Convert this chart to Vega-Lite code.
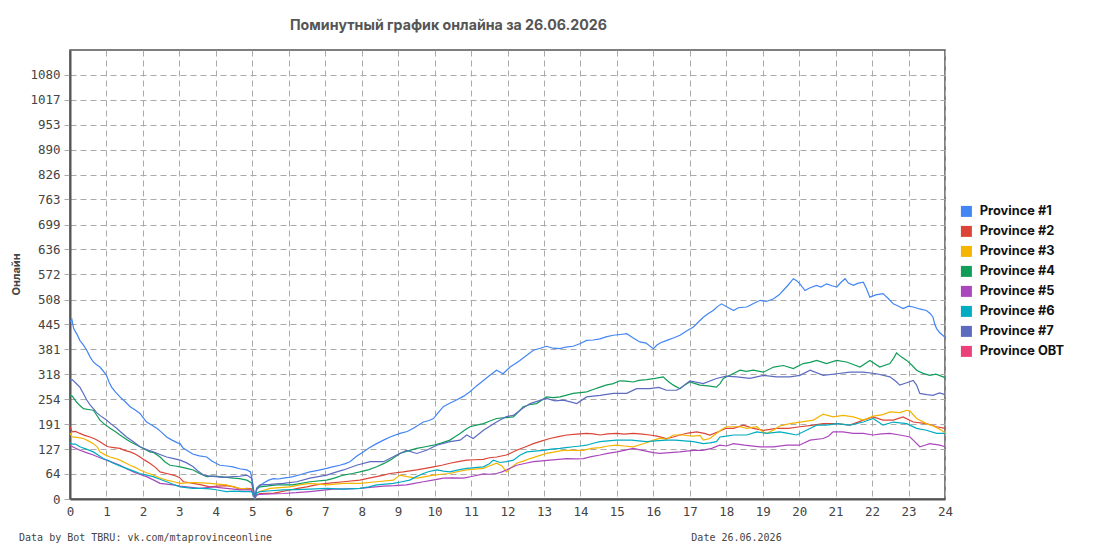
{
  "$schema": "https://vega.github.io/schema/vega-lite/v6.json",
  "width": 875,
  "height": 449,
  "autosize": "none",
  "padding": {"left": 70, "top": 50, "right": 150, "bottom": 51},
  "background": "white",
  "title": {
    "text": "Поминутный график онлайна за 26.06.2026",
    "frame": "group", "anchor": "start", "dx": 220, "offset": 17,
    "font": "Inter", "fontSize": 14.2, "fontWeight": "bold", "color": "#555555"
  },
  "data": {"values": [
    {"hour":0,"province":"Province #1","online":452},{"hour":0.05,"province":"Province #1","online":458},{"hour":0.1,"province":"Province #1","online":434},{"hour":0.2,"province":"Province #1","online":418},{"hour":0.27,"province":"Province #1","online":404},{"hour":0.37,"province":"Province #1","online":392},{"hour":0.46,"province":"Province #1","online":379},{"hour":0.55,"province":"Province #1","online":362},{"hour":0.64,"province":"Province #1","online":349},{"hour":0.73,"province":"Province #1","online":342},{"hour":0.82,"province":"Province #1","online":336},{"hour":0.91,"province":"Province #1","online":326},{"hour":1.0,"province":"Province #1","online":315},{"hour":1.07,"province":"Province #1","online":298},{"hour":1.14,"province":"Province #1","online":285},{"hour":1.25,"province":"Province #1","online":272},{"hour":1.37,"province":"Province #1","online":260},{"hour":1.5,"province":"Province #1","online":249},{"hour":1.65,"province":"Province #1","online":235},{"hour":1.8,"province":"Province #1","online":226},{"hour":1.92,"province":"Province #1","online":218},{"hour":2.0,"province":"Province #1","online":208},{"hour":2.1,"province":"Province #1","online":196},{"hour":2.25,"province":"Province #1","online":188},{"hour":2.38,"province":"Province #1","online":180},{"hour":2.5,"province":"Province #1","online":171},{"hour":2.65,"province":"Province #1","online":158},{"hour":2.8,"province":"Province #1","online":150},{"hour":2.95,"province":"Province #1","online":143},{"hour":3.02,"province":"Province #1","online":141},{"hour":3.1,"province":"Province #1","online":130},{"hour":3.2,"province":"Province #1","online":124},{"hour":3.38,"province":"Province #1","online":114},{"hour":3.55,"province":"Province #1","online":110},{"hour":3.75,"province":"Province #1","online":107},{"hour":3.9,"province":"Province #1","online":96},{"hour":4.11,"province":"Province #1","online":86},{"hour":4.3,"province":"Province #1","online":84},{"hour":4.47,"province":"Province #1","online":82},{"hour":4.65,"province":"Province #1","online":77},{"hour":4.85,"province":"Province #1","online":74},{"hour":4.95,"province":"Province #1","online":69},{"hour":5.0,"province":"Province #1","online":48},{"hour":5.07,"province":"Province #1","online":2},{"hour":5.12,"province":"Province #1","online":23},{"hour":5.2,"province":"Province #1","online":33},{"hour":5.3,"province":"Province #1","online":40},{"hour":5.45,"province":"Province #1","online":48},{"hour":5.58,"province":"Province #1","online":52},{"hour":5.72,"province":"Province #1","online":51},{"hour":5.85,"province":"Province #1","online":53},{"hour":6.0,"province":"Province #1","online":55},{"hour":6.12,"province":"Province #1","online":57},{"hour":6.35,"province":"Province #1","online":63},{"hour":6.58,"province":"Province #1","online":69},{"hour":6.8,"province":"Province #1","online":73},{"hour":7.04,"province":"Province #1","online":78},{"hour":7.2,"province":"Province #1","online":82},{"hour":7.4,"province":"Province #1","online":86},{"hour":7.55,"province":"Province #1","online":90},{"hour":7.68,"province":"Province #1","online":95},{"hour":7.85,"province":"Province #1","online":108},{"hour":8.04,"province":"Province #1","online":120},{"hour":8.2,"province":"Province #1","online":130},{"hour":8.41,"province":"Province #1","online":141},{"hour":8.6,"province":"Province #1","online":150},{"hour":8.78,"province":"Province #1","online":158},{"hour":9.05,"province":"Province #1","online":167},{"hour":9.25,"province":"Province #1","online":172},{"hour":9.42,"province":"Province #1","online":180},{"hour":9.55,"province":"Province #1","online":188},{"hour":9.69,"province":"Province #1","online":196},{"hour":9.85,"province":"Province #1","online":200},{"hour":9.97,"province":"Province #1","online":205},{"hour":10.1,"province":"Province #1","online":220},{"hour":10.24,"province":"Province #1","online":235},{"hour":10.4,"province":"Province #1","online":243},{"hour":10.6,"province":"Province #1","online":252},{"hour":10.8,"province":"Province #1","online":262},{"hour":10.97,"province":"Province #1","online":273},{"hour":11.15,"province":"Province #1","online":288},{"hour":11.34,"province":"Province #1","online":302},{"hour":11.5,"province":"Province #1","online":314},{"hour":11.7,"province":"Province #1","online":328},{"hour":11.88,"province":"Province #1","online":319},{"hour":12.07,"province":"Province #1","online":336},{"hour":12.2,"province":"Province #1","online":344},{"hour":12.34,"province":"Province #1","online":353},{"hour":12.5,"province":"Province #1","online":364},{"hour":12.71,"province":"Province #1","online":379},{"hour":12.9,"province":"Province #1","online":384},{"hour":13.07,"province":"Province #1","online":389},{"hour":13.25,"province":"Province #1","online":384},{"hour":13.44,"province":"Province #1","online":383},{"hour":13.6,"province":"Province #1","online":387},{"hour":13.8,"province":"Province #1","online":389},{"hour":14.0,"province":"Province #1","online":396},{"hour":14.17,"province":"Province #1","online":404},{"hour":14.35,"province":"Province #1","online":405},{"hour":14.54,"province":"Province #1","online":408},{"hour":14.7,"province":"Province #1","online":413},{"hour":14.9,"province":"Province #1","online":417},{"hour":15.1,"province":"Province #1","online":419},{"hour":15.27,"province":"Province #1","online":421},{"hour":15.45,"province":"Province #1","online":410},{"hour":15.63,"province":"Province #1","online":400},{"hour":15.8,"province":"Province #1","online":397},{"hour":16.0,"province":"Province #1","online":383},{"hour":16.1,"province":"Province #1","online":392},{"hour":16.2,"province":"Province #1","online":398},{"hour":16.37,"province":"Province #1","online":404},{"hour":16.55,"province":"Province #1","online":410},{"hour":16.73,"province":"Province #1","online":417},{"hour":16.9,"province":"Province #1","online":427},{"hour":17.1,"province":"Province #1","online":438},{"hour":17.25,"province":"Province #1","online":452},{"hour":17.37,"province":"Province #1","online":463},{"hour":17.5,"province":"Province #1","online":472},{"hour":17.64,"province":"Province #1","online":480},{"hour":17.76,"province":"Province #1","online":490},{"hour":17.87,"province":"Province #1","online":497},{"hour":18.0,"province":"Province #1","online":490},{"hour":18.1,"province":"Province #1","online":485},{"hour":18.2,"province":"Province #1","online":480},{"hour":18.33,"province":"Province #1","online":487},{"hour":18.56,"province":"Province #1","online":489},{"hour":18.75,"province":"Province #1","online":498},{"hour":18.93,"province":"Province #1","online":506},{"hour":19.1,"province":"Province #1","online":503},{"hour":19.3,"province":"Province #1","online":510},{"hour":19.45,"province":"Province #1","online":520},{"hour":19.56,"province":"Province #1","online":531},{"hour":19.7,"province":"Province #1","online":545},{"hour":19.84,"province":"Province #1","online":561},{"hour":19.93,"province":"Province #1","online":556},{"hour":20.02,"province":"Province #1","online":548},{"hour":20.16,"province":"Province #1","online":531},{"hour":20.3,"province":"Province #1","online":538},{"hour":20.48,"province":"Province #1","online":544},{"hour":20.6,"province":"Province #1","online":540},{"hour":20.75,"province":"Province #1","online":548},{"hour":20.9,"province":"Province #1","online":543},{"hour":21.03,"province":"Province #1","online":540},{"hour":21.15,"province":"Province #1","online":552},{"hour":21.26,"province":"Province #1","online":561},{"hour":21.35,"province":"Province #1","online":550},{"hour":21.49,"province":"Province #1","online":544},{"hour":21.6,"province":"Province #1","online":549},{"hour":21.76,"province":"Province #1","online":552},{"hour":21.85,"province":"Province #1","online":535},{"hour":21.94,"province":"Province #1","online":514},{"hour":22.1,"province":"Province #1","online":520},{"hour":22.3,"province":"Province #1","online":523},{"hour":22.45,"province":"Province #1","online":510},{"hour":22.58,"province":"Province #1","online":497},{"hour":22.7,"province":"Province #1","online":492},{"hour":22.85,"province":"Province #1","online":485},{"hour":23.0,"province":"Province #1","online":491},{"hour":23.13,"province":"Province #1","online":489},{"hour":23.3,"province":"Province #1","online":484},{"hour":23.49,"province":"Province #1","online":480},{"hour":23.6,"province":"Province #1","online":472},{"hour":23.67,"province":"Province #1","online":463},{"hour":23.72,"province":"Province #1","online":445},{"hour":23.77,"province":"Province #1","online":434},{"hour":23.85,"province":"Province #1","online":424},{"hour":24,"province":"Province #1","online":412},
    {"hour":0,"province":"Province #2","online":185},{"hour":0.06,"province":"Province #2","online":171},{"hour":0.15,"province":"Province #2","online":172},{"hour":0.27,"province":"Province #2","online":167},{"hour":0.4,"province":"Province #2","online":162},{"hour":0.55,"province":"Province #2","online":158},{"hour":0.7,"province":"Province #2","online":152},{"hour":0.82,"province":"Province #2","online":146},{"hour":1.0,"province":"Province #2","online":135},{"hour":1.05,"province":"Province #2","online":133},{"hour":1.2,"province":"Province #2","online":131},{"hour":1.37,"province":"Province #2","online":129},{"hour":1.5,"province":"Province #2","online":124},{"hour":1.65,"province":"Province #2","online":120},{"hour":1.8,"province":"Province #2","online":114},{"hour":1.92,"province":"Province #2","online":107},{"hour":2.05,"province":"Province #2","online":99},{"hour":2.19,"province":"Province #2","online":91},{"hour":2.35,"province":"Province #2","online":80},{"hour":2.47,"province":"Province #2","online":69},{"hour":2.65,"province":"Province #2","online":65},{"hour":2.83,"province":"Province #2","online":61},{"hour":3.0,"province":"Province #2","online":55},{"hour":3.11,"province":"Province #2","online":44},{"hour":3.25,"province":"Province #2","online":42},{"hour":3.38,"province":"Province #2","online":40},{"hour":3.6,"province":"Province #2","online":36},{"hour":3.84,"province":"Province #2","online":31},{"hour":4.05,"province":"Province #2","online":33},{"hour":4.29,"province":"Province #2","online":34},{"hour":4.5,"province":"Province #2","online":31},{"hour":4.66,"province":"Province #2","online":25},{"hour":4.85,"province":"Province #2","online":27},{"hour":4.98,"province":"Province #2","online":26},{"hour":5.07,"province":"Province #2","online":2},{"hour":5.12,"province":"Province #2","online":10},{"hour":5.21,"province":"Province #2","online":14},{"hour":5.6,"province":"Province #2","online":15},{"hour":6.03,"province":"Province #2","online":23},{"hour":6.25,"province":"Province #2","online":27},{"hour":6.49,"province":"Province #2","online":31},{"hour":6.75,"province":"Province #2","online":36},{"hour":7.04,"province":"Province #2","online":40},{"hour":7.5,"province":"Province #2","online":44},{"hour":7.95,"province":"Province #2","online":48},{"hour":8.2,"province":"Province #2","online":53},{"hour":8.41,"province":"Province #2","online":57},{"hour":8.6,"province":"Province #2","online":61},{"hour":8.78,"province":"Province #2","online":65},{"hour":9.14,"province":"Province #2","online":69},{"hour":9.51,"province":"Province #2","online":74},{"hour":9.75,"province":"Province #2","online":78},{"hour":9.97,"province":"Province #2","online":82},{"hour":10.2,"province":"Province #2","online":86},{"hour":10.42,"province":"Province #2","online":91},{"hour":10.65,"province":"Province #2","online":95},{"hour":10.88,"province":"Province #2","online":99},{"hour":11.1,"province":"Province #2","online":100},{"hour":11.34,"province":"Province #2","online":101},{"hour":11.5,"province":"Province #2","online":105},{"hour":11.7,"province":"Province #2","online":107},{"hour":11.97,"province":"Province #2","online":112},{"hour":12.25,"province":"Province #2","online":124},{"hour":12.5,"province":"Province #2","online":133},{"hour":12.71,"province":"Province #2","online":141},{"hour":12.95,"province":"Province #2","online":148},{"hour":13.16,"province":"Province #2","online":154},{"hour":13.4,"province":"Province #2","online":159},{"hour":13.62,"province":"Province #2","online":163},{"hour":13.9,"province":"Province #2","online":165},{"hour":14.17,"province":"Province #2","online":167},{"hour":14.35,"province":"Province #2","online":166},{"hour":14.54,"province":"Province #2","online":163},{"hour":14.75,"province":"Province #2","online":166},{"hour":15.0,"province":"Province #2","online":167},{"hour":15.2,"province":"Province #2","online":165},{"hour":15.45,"province":"Province #2","online":167},{"hour":15.7,"province":"Province #2","online":165},{"hour":15.9,"province":"Province #2","online":163},{"hour":16.1,"province":"Province #2","online":160},{"hour":16.36,"province":"Province #2","online":154},{"hour":16.55,"province":"Province #2","online":158},{"hour":16.73,"province":"Province #2","online":163},{"hour":16.95,"province":"Province #2","online":168},{"hour":17.19,"province":"Province #2","online":171},{"hour":17.4,"province":"Province #2","online":167},{"hour":17.55,"province":"Province #2","online":163},{"hour":17.8,"province":"Province #2","online":172},{"hour":18.0,"province":"Province #2","online":180},{"hour":18.2,"province":"Province #2","online":180},{"hour":18.47,"province":"Province #2","online":188},{"hour":18.74,"province":"Province #2","online":180},{"hour":19.02,"province":"Province #2","online":175},{"hour":19.38,"province":"Province #2","online":180},{"hour":19.7,"province":"Province #2","online":180},{"hour":20.02,"province":"Province #2","online":184},{"hour":20.39,"province":"Province #2","online":188},{"hour":20.66,"province":"Province #2","online":192},{"hour":21.03,"province":"Province #2","online":192},{"hour":21.39,"province":"Province #2","online":188},{"hour":21.76,"province":"Province #2","online":201},{"hour":22.03,"province":"Province #2","online":209},{"hour":22.3,"province":"Province #2","online":201},{"hour":22.58,"province":"Province #2","online":201},{"hour":22.85,"province":"Province #2","online":209},{"hour":23.13,"province":"Province #2","online":196},{"hour":23.49,"province":"Province #2","online":192},{"hour":23.77,"province":"Province #2","online":184},{"hour":24,"province":"Province #2","online":180},
    {"hour":0,"province":"Province #3","online":168},{"hour":0.06,"province":"Province #3","online":158},{"hour":0.2,"province":"Province #3","online":157},{"hour":0.37,"province":"Province #3","online":154},{"hour":0.5,"province":"Province #3","online":148},{"hour":0.64,"province":"Province #3","online":141},{"hour":0.75,"province":"Province #3","online":132},{"hour":0.82,"province":"Province #3","online":120},{"hour":0.95,"province":"Province #3","online":113},{"hour":1.1,"province":"Province #3","online":107},{"hour":1.25,"province":"Province #3","online":103},{"hour":1.37,"province":"Province #3","online":99},{"hour":1.5,"province":"Province #3","online":93},{"hour":1.65,"province":"Province #3","online":86},{"hour":1.8,"province":"Province #3","online":80},{"hour":1.92,"province":"Province #3","online":74},{"hour":2.1,"province":"Province #3","online":67},{"hour":2.28,"province":"Province #3","online":61},{"hour":2.45,"province":"Province #3","online":54},{"hour":2.65,"province":"Province #3","online":48},{"hour":2.85,"province":"Province #3","online":44},{"hour":3.02,"province":"Province #3","online":40},{"hour":3.2,"province":"Province #3","online":41},{"hour":3.38,"province":"Province #3","online":42},{"hour":3.6,"province":"Province #3","online":41},{"hour":3.84,"province":"Province #3","online":40},{"hour":4.05,"province":"Province #3","online":38},{"hour":4.29,"province":"Province #3","online":36},{"hour":4.5,"province":"Province #3","online":31},{"hour":4.66,"province":"Province #3","online":27},{"hour":4.85,"province":"Province #3","online":26},{"hour":4.98,"province":"Province #3","online":24},{"hour":5.07,"province":"Province #3","online":2},{"hour":5.12,"province":"Province #3","online":15},{"hour":5.21,"province":"Province #3","online":19},{"hour":5.49,"province":"Province #3","online":27},{"hour":5.75,"province":"Province #3","online":29},{"hour":6.03,"province":"Province #3","online":31},{"hour":6.3,"province":"Province #3","online":36},{"hour":6.58,"province":"Province #3","online":40},{"hour":6.8,"province":"Province #3","online":38},{"hour":7.04,"province":"Province #3","online":36},{"hour":7.25,"province":"Province #3","online":38},{"hour":7.5,"province":"Province #3","online":40},{"hour":7.95,"province":"Province #3","online":40},{"hour":8.41,"province":"Province #3","online":44},{"hour":8.87,"province":"Province #3","online":48},{"hour":9.05,"province":"Province #3","online":61},{"hour":9.25,"province":"Province #3","online":57},{"hour":9.51,"province":"Province #3","online":53},{"hour":9.75,"province":"Province #3","online":57},{"hour":9.97,"province":"Province #3","online":61},{"hour":10.2,"province":"Province #3","online":63},{"hour":10.42,"province":"Province #3","online":65},{"hour":10.65,"province":"Province #3","online":70},{"hour":10.88,"province":"Province #3","online":74},{"hour":11.1,"province":"Province #3","online":76},{"hour":11.34,"province":"Province #3","online":78},{"hour":11.5,"province":"Province #3","online":84},{"hour":11.7,"province":"Province #3","online":91},{"hour":11.85,"province":"Province #3","online":84},{"hour":11.97,"province":"Province #3","online":69},{"hour":12.1,"province":"Province #3","online":80},{"hour":12.25,"province":"Province #3","online":91},{"hour":12.45,"province":"Province #3","online":97},{"hour":12.62,"province":"Province #3","online":103},{"hour":12.85,"province":"Province #3","online":110},{"hour":13.07,"province":"Province #3","online":116},{"hour":13.3,"province":"Province #3","online":120},{"hour":13.53,"province":"Province #3","online":124},{"hour":13.8,"province":"Province #3","online":124},{"hour":14.08,"province":"Province #3","online":124},{"hour":14.3,"province":"Province #3","online":129},{"hour":14.54,"province":"Province #3","online":131},{"hour":14.75,"province":"Province #3","online":135},{"hour":15.0,"province":"Province #3","online":137},{"hour":15.2,"province":"Province #3","online":135},{"hour":15.45,"province":"Province #3","online":133},{"hour":15.7,"province":"Province #3","online":140},{"hour":15.9,"province":"Province #3","online":146},{"hour":16.0,"province":"Province #3","online":150},{"hour":16.2,"province":"Province #3","online":155},{"hour":16.36,"province":"Province #3","online":152},{"hour":16.55,"province":"Province #3","online":163},{"hour":16.8,"province":"Province #3","online":163},{"hour":17.1,"province":"Province #3","online":160},{"hour":17.28,"province":"Province #3","online":162},{"hour":17.37,"province":"Province #3","online":150},{"hour":17.55,"province":"Province #3","online":154},{"hour":17.73,"province":"Province #3","online":167},{"hour":17.9,"province":"Province #3","online":178},{"hour":18.0,"province":"Province #3","online":184},{"hour":18.2,"province":"Province #3","online":184},{"hour":18.38,"province":"Province #3","online":184},{"hour":18.56,"province":"Province #3","online":180},{"hour":18.84,"province":"Province #3","online":184},{"hour":19.0,"province":"Province #3","online":171},{"hour":19.11,"province":"Province #3","online":167},{"hour":19.3,"province":"Province #3","online":176},{"hour":19.47,"province":"Province #3","online":186},{"hour":19.75,"province":"Province #3","online":192},{"hour":20.02,"province":"Province #3","online":196},{"hour":20.39,"province":"Province #3","online":201},{"hour":20.55,"province":"Province #3","online":210},{"hour":20.66,"province":"Province #3","online":216},{"hour":20.93,"province":"Province #3","online":209},{"hour":21.21,"province":"Province #3","online":213},{"hour":21.48,"province":"Province #3","online":209},{"hour":21.76,"province":"Province #3","online":201},{"hour":22.03,"province":"Province #3","online":211},{"hour":22.3,"province":"Province #3","online":215},{"hour":22.49,"province":"Province #3","online":222},{"hour":22.76,"province":"Province #3","online":220},{"hour":22.95,"province":"Province #3","online":226},{"hour":23.04,"province":"Province #3","online":224},{"hour":23.22,"province":"Province #3","online":205},{"hour":23.49,"province":"Province #3","online":192},{"hour":23.68,"province":"Province #3","online":186},{"hour":23.85,"province":"Province #3","online":178},{"hour":24,"province":"Province #3","online":169},
    {"hour":0,"province":"Province #4","online":264},{"hour":0.06,"province":"Province #4","online":262},{"hour":0.18,"province":"Province #4","online":247},{"hour":0.27,"province":"Province #4","online":238},{"hour":0.37,"province":"Province #4","online":230},{"hour":0.5,"province":"Province #4","online":228},{"hour":0.64,"province":"Province #4","online":226},{"hour":0.73,"province":"Province #4","online":214},{"hour":0.82,"province":"Province #4","online":201},{"hour":0.95,"province":"Province #4","online":190},{"hour":1.1,"province":"Province #4","online":180},{"hour":1.25,"province":"Province #4","online":171},{"hour":1.37,"province":"Province #4","online":163},{"hour":1.5,"province":"Province #4","online":155},{"hour":1.65,"province":"Province #4","online":146},{"hour":1.8,"province":"Province #4","online":139},{"hour":1.92,"province":"Province #4","online":133},{"hour":2.05,"province":"Province #4","online":127},{"hour":2.19,"province":"Province #4","online":120},{"hour":2.3,"province":"Province #4","online":118},{"hour":2.47,"province":"Province #4","online":107},{"hour":2.6,"province":"Province #4","online":95},{"hour":2.74,"province":"Province #4","online":86},{"hour":2.88,"province":"Province #4","online":84},{"hour":3.02,"province":"Province #4","online":82},{"hour":3.2,"province":"Province #4","online":78},{"hour":3.38,"province":"Province #4","online":74},{"hour":3.55,"province":"Province #4","online":65},{"hour":3.75,"province":"Province #4","online":57},{"hour":3.95,"province":"Province #4","online":58},{"hour":4.11,"province":"Province #4","online":57},{"hour":4.3,"province":"Province #4","online":55},{"hour":4.48,"province":"Province #4","online":53},{"hour":4.65,"province":"Province #4","online":52},{"hour":4.85,"province":"Province #4","online":48},{"hour":4.98,"province":"Province #4","online":41},{"hour":5.07,"province":"Province #4","online":2},{"hour":5.12,"province":"Province #4","online":26},{"hour":5.21,"province":"Province #4","online":31},{"hour":5.67,"province":"Province #4","online":36},{"hour":6.1,"province":"Province #4","online":36},{"hour":6.58,"province":"Province #4","online":44},{"hour":7.04,"province":"Province #4","online":48},{"hour":7.25,"province":"Province #4","online":53},{"hour":7.5,"province":"Province #4","online":61},{"hour":7.75,"province":"Province #4","online":65},{"hour":7.95,"province":"Province #4","online":69},{"hour":8.2,"province":"Province #4","online":75},{"hour":8.41,"province":"Province #4","online":82},{"hour":8.6,"province":"Province #4","online":90},{"hour":8.78,"province":"Province #4","online":99},{"hour":9.05,"province":"Province #4","online":116},{"hour":9.25,"province":"Province #4","online":122},{"hour":9.51,"province":"Province #4","online":129},{"hour":9.75,"province":"Province #4","online":133},{"hour":9.97,"province":"Province #4","online":137},{"hour":10.2,"province":"Province #4","online":143},{"hour":10.42,"province":"Province #4","online":150},{"hour":10.55,"province":"Province #4","online":158},{"hour":10.7,"province":"Province #4","online":167},{"hour":10.85,"province":"Province #4","online":177},{"hour":10.97,"province":"Province #4","online":184},{"hour":11.15,"province":"Province #4","online":188},{"hour":11.34,"province":"Province #4","online":192},{"hour":11.5,"province":"Province #4","online":198},{"hour":11.7,"province":"Province #4","online":205},{"hour":11.95,"province":"Province #4","online":207},{"hour":12.16,"province":"Province #4","online":209},{"hour":12.3,"province":"Province #4","online":222},{"hour":12.43,"province":"Province #4","online":235},{"hour":12.6,"province":"Province #4","online":240},{"hour":12.8,"province":"Province #4","online":243},{"hour":13.07,"province":"Province #4","online":260},{"hour":13.25,"province":"Province #4","online":258},{"hour":13.44,"province":"Province #4","online":260},{"hour":13.6,"province":"Province #4","online":264},{"hour":13.8,"province":"Province #4","online":269},{"hour":14.0,"province":"Province #4","online":271},{"hour":14.17,"province":"Province #4","online":273},{"hour":14.35,"province":"Province #4","online":279},{"hour":14.54,"province":"Province #4","online":285},{"hour":14.7,"province":"Province #4","online":290},{"hour":14.9,"province":"Province #4","online":294},{"hour":15.08,"province":"Province #4","online":301},{"hour":15.25,"province":"Province #4","online":300},{"hour":15.45,"province":"Province #4","online":298},{"hour":15.6,"province":"Province #4","online":302},{"hour":15.82,"province":"Province #4","online":304},{"hour":16.05,"province":"Province #4","online":307},{"hour":16.27,"province":"Province #4","online":311},{"hour":16.4,"province":"Province #4","online":300},{"hour":16.55,"province":"Province #4","online":290},{"hour":16.73,"province":"Province #4","online":281},{"hour":16.85,"province":"Province #4","online":290},{"hour":17.0,"province":"Province #4","online":298},{"hour":17.15,"province":"Province #4","online":294},{"hour":17.28,"province":"Province #4","online":290},{"hour":17.5,"province":"Province #4","online":288},{"hour":17.73,"province":"Province #4","online":285},{"hour":17.83,"province":"Province #4","online":294},{"hour":17.92,"province":"Province #4","online":307},{"hour":18.1,"province":"Province #4","online":315},{"hour":18.38,"province":"Province #4","online":328},{"hour":18.55,"province":"Province #4","online":325},{"hour":18.74,"province":"Province #4","online":328},{"hour":19.02,"province":"Province #4","online":323},{"hour":19.3,"province":"Province #4","online":336},{"hour":19.57,"province":"Province #4","online":340},{"hour":19.84,"province":"Province #4","online":332},{"hour":20.11,"province":"Province #4","online":345},{"hour":20.3,"province":"Province #4","online":348},{"hour":20.48,"province":"Province #4","online":353},{"hour":20.75,"province":"Province #4","online":345},{"hour":21.03,"province":"Province #4","online":353},{"hour":21.3,"province":"Province #4","online":349},{"hour":21.5,"province":"Province #4","online":342},{"hour":21.67,"province":"Province #4","online":336},{"hour":21.94,"province":"Province #4","online":353},{"hour":22.21,"province":"Province #4","online":336},{"hour":22.49,"province":"Province #4","online":345},{"hour":22.6,"province":"Province #4","online":360},{"hour":22.67,"province":"Province #4","online":372},{"hour":22.8,"province":"Province #4","online":362},{"hour":22.95,"province":"Province #4","online":353},{"hour":23.1,"province":"Province #4","online":340},{"hour":23.22,"province":"Province #4","online":328},{"hour":23.4,"province":"Province #4","online":320},{"hour":23.58,"province":"Province #4","online":315},{"hour":23.75,"province":"Province #4","online":318},{"hour":23.95,"province":"Province #4","online":311},{"hour":24,"province":"Province #4","online":309},
    {"hour":0,"province":"Province #5","online":137},{"hour":0.1,"province":"Province #5","online":132},{"hour":0.27,"province":"Province #5","online":124},{"hour":0.45,"province":"Province #5","online":118},{"hour":0.64,"province":"Province #5","online":112},{"hour":0.82,"province":"Province #5","online":105},{"hour":1.0,"province":"Province #5","online":99},{"hour":1.2,"province":"Province #5","online":92},{"hour":1.37,"province":"Province #5","online":86},{"hour":1.55,"province":"Province #5","online":77},{"hour":1.74,"province":"Province #5","online":69},{"hour":1.9,"province":"Province #5","online":63},{"hour":2.1,"province":"Province #5","online":57},{"hour":2.3,"province":"Province #5","online":48},{"hour":2.47,"province":"Province #5","online":40},{"hour":2.65,"province":"Province #5","online":38},{"hour":2.83,"province":"Province #5","online":36},{"hour":3.0,"province":"Province #5","online":33},{"hour":3.2,"province":"Province #5","online":31},{"hour":3.38,"province":"Province #5","online":29},{"hour":3.56,"province":"Province #5","online":27},{"hour":3.75,"province":"Province #5","online":29},{"hour":3.93,"province":"Province #5","online":31},{"hour":4.1,"province":"Province #5","online":29},{"hour":4.29,"province":"Province #5","online":27},{"hour":4.5,"province":"Province #5","online":25},{"hour":4.66,"province":"Province #5","online":23},{"hour":4.85,"province":"Province #5","online":23},{"hour":4.98,"province":"Province #5","online":23},{"hour":5.07,"province":"Province #5","online":2},{"hour":5.12,"province":"Province #5","online":10},{"hour":5.21,"province":"Province #5","online":12},{"hour":5.5,"province":"Province #5","online":13},{"hour":5.85,"province":"Province #5","online":14},{"hour":6.2,"province":"Province #5","online":16},{"hour":6.58,"province":"Province #5","online":19},{"hour":6.9,"province":"Province #5","online":22},{"hour":7.22,"province":"Province #5","online":25},{"hour":7.6,"province":"Province #5","online":26},{"hour":7.95,"province":"Province #5","online":27},{"hour":8.3,"province":"Province #5","online":30},{"hour":8.6,"province":"Province #5","online":33},{"hour":8.9,"province":"Province #5","online":34},{"hour":9.23,"province":"Province #5","online":36},{"hour":9.45,"province":"Province #5","online":40},{"hour":9.69,"province":"Province #5","online":44},{"hour":9.95,"province":"Province #5","online":48},{"hour":10.24,"province":"Province #5","online":53},{"hour":10.5,"province":"Province #5","online":54},{"hour":10.79,"province":"Province #5","online":53},{"hour":11.05,"province":"Province #5","online":58},{"hour":11.34,"province":"Province #5","online":64},{"hour":11.5,"province":"Province #5","online":63},{"hour":11.7,"province":"Province #5","online":65},{"hour":11.85,"province":"Province #5","online":69},{"hour":11.97,"province":"Province #5","online":74},{"hour":12.25,"province":"Province #5","online":86},{"hour":12.5,"province":"Province #5","online":91},{"hour":12.71,"province":"Province #5","online":95},{"hour":12.95,"province":"Province #5","online":97},{"hour":13.16,"province":"Province #5","online":99},{"hour":13.4,"province":"Province #5","online":101},{"hour":13.62,"province":"Province #5","online":103},{"hour":13.85,"province":"Province #5","online":102},{"hour":14.08,"province":"Province #5","online":103},{"hour":14.3,"province":"Province #5","online":108},{"hour":14.54,"province":"Province #5","online":112},{"hour":14.75,"province":"Province #5","online":116},{"hour":15.0,"province":"Province #5","online":120},{"hour":15.2,"province":"Province #5","online":124},{"hour":15.45,"province":"Province #5","online":129},{"hour":15.7,"province":"Province #5","online":124},{"hour":15.9,"province":"Province #5","online":120},{"hour":16.0,"province":"Province #5","online":118},{"hour":16.18,"province":"Province #5","online":116},{"hour":16.45,"province":"Province #5","online":118},{"hour":16.73,"province":"Province #5","online":120},{"hour":16.9,"province":"Province #5","online":122},{"hour":17.1,"province":"Province #5","online":124},{"hour":17.35,"province":"Province #5","online":124},{"hour":17.6,"province":"Province #5","online":129},{"hour":17.82,"province":"Province #5","online":137},{"hour":18.0,"province":"Province #5","online":135},{"hour":18.2,"province":"Province #5","online":141},{"hour":18.5,"province":"Province #5","online":137},{"hour":18.93,"province":"Province #5","online":133},{"hour":19.3,"province":"Province #5","online":133},{"hour":19.66,"province":"Province #5","online":137},{"hour":20.0,"province":"Province #5","online":137},{"hour":20.3,"province":"Province #5","online":150},{"hour":20.66,"province":"Province #5","online":154},{"hour":20.8,"province":"Province #5","online":160},{"hour":20.93,"province":"Province #5","online":171},{"hour":21.2,"province":"Province #5","online":171},{"hour":21.48,"province":"Province #5","online":167},{"hour":21.76,"province":"Province #5","online":167},{"hour":22.03,"province":"Province #5","online":163},{"hour":22.25,"province":"Province #5","online":166},{"hour":22.49,"province":"Province #5","online":167},{"hour":22.76,"province":"Province #5","online":163},{"hour":23.04,"province":"Province #5","online":158},{"hour":23.15,"province":"Province #5","online":148},{"hour":23.31,"province":"Province #5","online":133},{"hour":23.45,"province":"Province #5","online":137},{"hour":23.58,"province":"Province #5","online":141},{"hour":23.86,"province":"Province #5","online":137},{"hour":24,"province":"Province #5","online":133},
    {"hour":0,"province":"Province #6","online":143},{"hour":0.06,"province":"Province #6","online":140},{"hour":0.15,"province":"Province #6","online":140},{"hour":0.27,"province":"Province #6","online":133},{"hour":0.45,"province":"Province #6","online":127},{"hour":0.64,"province":"Province #6","online":120},{"hour":0.8,"province":"Province #6","online":110},{"hour":0.91,"province":"Province #6","online":103},{"hour":1.05,"province":"Province #6","online":98},{"hour":1.19,"province":"Province #6","online":91},{"hour":1.35,"province":"Province #6","online":85},{"hour":1.55,"province":"Province #6","online":78},{"hour":1.75,"province":"Province #6","online":71},{"hour":1.92,"province":"Province #6","online":65},{"hour":2.1,"province":"Province #6","online":61},{"hour":2.28,"province":"Province #6","online":57},{"hour":2.45,"province":"Province #6","online":51},{"hour":2.65,"province":"Province #6","online":44},{"hour":2.85,"province":"Province #6","online":37},{"hour":3.02,"province":"Province #6","online":31},{"hour":3.2,"province":"Province #6","online":29},{"hour":3.38,"province":"Province #6","online":27},{"hour":3.6,"province":"Province #6","online":27},{"hour":3.84,"province":"Province #6","online":26},{"hour":4.05,"province":"Province #6","online":23},{"hour":4.29,"province":"Province #6","online":19},{"hour":4.5,"province":"Province #6","online":20},{"hour":4.75,"province":"Province #6","online":19},{"hour":4.98,"province":"Province #6","online":19},{"hour":5.07,"province":"Province #6","online":2},{"hour":5.12,"province":"Province #6","online":15},{"hour":5.21,"province":"Province #6","online":19},{"hour":5.5,"province":"Province #6","online":21},{"hour":5.85,"province":"Province #6","online":23},{"hour":6.2,"province":"Province #6","online":24},{"hour":6.58,"province":"Province #6","online":25},{"hour":7.04,"province":"Province #6","online":27},{"hour":7.5,"province":"Province #6","online":25},{"hour":7.95,"province":"Province #6","online":27},{"hour":8.2,"province":"Province #6","online":31},{"hour":8.41,"province":"Province #6","online":36},{"hour":8.65,"province":"Province #6","online":38},{"hour":8.87,"province":"Province #6","online":40},{"hour":9.1,"province":"Province #6","online":44},{"hour":9.32,"province":"Province #6","online":48},{"hour":9.5,"province":"Province #6","online":57},{"hour":9.69,"province":"Province #6","online":65},{"hour":9.85,"province":"Province #6","online":70},{"hour":10.06,"province":"Province #6","online":74},{"hour":10.25,"province":"Province #6","online":71},{"hour":10.42,"province":"Province #6","online":69},{"hour":10.65,"province":"Province #6","online":74},{"hour":10.88,"province":"Province #6","online":78},{"hour":11.1,"province":"Province #6","online":80},{"hour":11.34,"province":"Province #6","online":82},{"hour":11.5,"province":"Province #6","online":90},{"hour":11.61,"province":"Province #6","online":99},{"hour":11.8,"province":"Province #6","online":93},{"hour":11.97,"province":"Province #6","online":95},{"hour":12.16,"province":"Province #6","online":99},{"hour":12.35,"province":"Province #6","online":112},{"hour":12.53,"province":"Province #6","online":120},{"hour":12.75,"province":"Province #6","online":122},{"hour":12.98,"province":"Province #6","online":124},{"hour":13.2,"province":"Province #6","online":127},{"hour":13.44,"province":"Province #6","online":129},{"hour":13.6,"province":"Province #6","online":131},{"hour":13.8,"province":"Province #6","online":133},{"hour":14.0,"province":"Province #6","online":135},{"hour":14.17,"province":"Province #6","online":137},{"hour":14.35,"province":"Province #6","online":142},{"hour":14.54,"province":"Province #6","online":146},{"hour":14.75,"province":"Province #6","online":148},{"hour":15.0,"province":"Province #6","online":150},{"hour":15.2,"province":"Province #6","online":150},{"hour":15.4,"province":"Province #6","online":150},{"hour":15.6,"province":"Province #6","online":148},{"hour":15.82,"province":"Province #6","online":146},{"hour":16.05,"province":"Province #6","online":148},{"hour":16.36,"province":"Province #6","online":150},{"hour":16.6,"province":"Province #6","online":150},{"hour":16.85,"province":"Province #6","online":148},{"hour":17.1,"province":"Province #6","online":146},{"hour":17.37,"province":"Province #6","online":141},{"hour":17.55,"province":"Province #6","online":143},{"hour":17.73,"province":"Province #6","online":146},{"hour":17.83,"province":"Province #6","online":158},{"hour":18.0,"province":"Province #6","online":160},{"hour":18.2,"province":"Province #6","online":163},{"hour":18.56,"province":"Province #6","online":163},{"hour":18.84,"province":"Province #6","online":171},{"hour":19.11,"province":"Province #6","online":167},{"hour":19.47,"province":"Province #6","online":171},{"hour":19.7,"province":"Province #6","online":167},{"hour":19.93,"province":"Province #6","online":163},{"hour":20.2,"province":"Province #6","online":175},{"hour":20.48,"province":"Province #6","online":188},{"hour":20.75,"province":"Province #6","online":188},{"hour":21.03,"province":"Province #6","online":192},{"hour":21.39,"province":"Province #6","online":188},{"hour":21.76,"province":"Province #6","online":196},{"hour":22.03,"province":"Province #6","online":205},{"hour":22.3,"province":"Province #6","online":188},{"hour":22.58,"province":"Province #6","online":196},{"hour":22.95,"province":"Province #6","online":192},{"hour":23.22,"province":"Province #6","online":180},{"hour":23.49,"province":"Province #6","online":175},{"hour":23.77,"province":"Province #6","online":167},{"hour":24,"province":"Province #6","online":167},
    {"hour":0,"province":"Province #7","online":302},{"hour":0.06,"province":"Province #7","online":304},{"hour":0.15,"province":"Province #7","online":296},{"hour":0.27,"province":"Province #7","online":285},{"hour":0.37,"province":"Province #7","online":268},{"hour":0.46,"province":"Province #7","online":252},{"hour":0.55,"province":"Province #7","online":240},{"hour":0.64,"province":"Province #7","online":230},{"hour":0.73,"province":"Province #7","online":220},{"hour":0.82,"province":"Province #7","online":213},{"hour":1.0,"province":"Province #7","online":201},{"hour":1.14,"province":"Province #7","online":190},{"hour":1.28,"province":"Province #7","online":180},{"hour":1.4,"province":"Province #7","online":170},{"hour":1.55,"province":"Province #7","online":158},{"hour":1.75,"province":"Province #7","online":145},{"hour":1.92,"province":"Province #7","online":133},{"hour":2.1,"province":"Province #7","online":126},{"hour":2.28,"province":"Province #7","online":120},{"hour":2.45,"province":"Province #7","online":114},{"hour":2.65,"province":"Province #7","online":107},{"hour":2.85,"province":"Province #7","online":103},{"hour":3.02,"province":"Province #7","online":99},{"hour":3.2,"province":"Province #7","online":92},{"hour":3.38,"province":"Province #7","online":82},{"hour":3.5,"province":"Province #7","online":72},{"hour":3.66,"province":"Province #7","online":61},{"hour":3.8,"province":"Province #7","online":59},{"hour":4.0,"province":"Province #7","online":57},{"hour":4.2,"province":"Province #7","online":55},{"hour":4.48,"province":"Province #7","online":57},{"hour":4.65,"province":"Province #7","online":58},{"hour":4.85,"province":"Province #7","online":61},{"hour":4.98,"province":"Province #7","online":53},{"hour":5.07,"province":"Province #7","online":2},{"hour":5.12,"province":"Province #7","online":28},{"hour":5.21,"province":"Province #7","online":36},{"hour":5.49,"province":"Province #7","online":37},{"hour":5.85,"province":"Province #7","online":40},{"hour":6.22,"province":"Province #7","online":44},{"hour":6.58,"province":"Province #7","online":53},{"hour":7.04,"province":"Province #7","online":61},{"hour":7.25,"province":"Province #7","online":67},{"hour":7.5,"province":"Province #7","online":74},{"hour":7.86,"province":"Province #7","online":86},{"hour":8.23,"province":"Province #7","online":95},{"hour":8.6,"province":"Province #7","online":95},{"hour":8.96,"province":"Province #7","online":112},{"hour":9.23,"province":"Province #7","online":124},{"hour":9.51,"province":"Province #7","online":116},{"hour":9.78,"province":"Province #7","online":124},{"hour":10.06,"province":"Province #7","online":137},{"hour":10.42,"province":"Province #7","online":146},{"hour":10.7,"province":"Province #7","online":150},{"hour":10.88,"province":"Province #7","online":163},{"hour":11.06,"province":"Province #7","online":154},{"hour":11.34,"province":"Province #7","online":175},{"hour":11.7,"province":"Province #7","online":196},{"hour":11.97,"province":"Province #7","online":210},{"hour":12.16,"province":"Province #7","online":213},{"hour":12.4,"province":"Province #7","online":230},{"hour":12.62,"province":"Province #7","online":243},{"hour":12.85,"province":"Province #7","online":250},{"hour":13.07,"province":"Province #7","online":256},{"hour":13.3,"province":"Province #7","online":250},{"hour":13.53,"province":"Province #7","online":252},{"hour":13.7,"province":"Province #7","online":248},{"hour":13.9,"province":"Province #7","online":243},{"hour":14.17,"province":"Province #7","online":260},{"hour":14.54,"province":"Province #7","online":264},{"hour":14.9,"province":"Province #7","online":269},{"hour":15.27,"province":"Province #7","online":269},{"hour":15.54,"province":"Province #7","online":281},{"hour":15.9,"province":"Province #7","online":281},{"hour":16.15,"province":"Province #7","online":284},{"hour":16.36,"province":"Province #7","online":277},{"hour":16.64,"province":"Province #7","online":277},{"hour":16.8,"province":"Province #7","online":286},{"hour":17.0,"province":"Province #7","online":301},{"hour":17.37,"province":"Province #7","online":294},{"hour":17.73,"province":"Province #7","online":307},{"hour":18.0,"province":"Province #7","online":313},{"hour":18.29,"province":"Province #7","online":311},{"hour":18.65,"province":"Province #7","online":307},{"hour":19.02,"province":"Province #7","online":315},{"hour":19.38,"province":"Province #7","online":311},{"hour":19.75,"province":"Province #7","online":311},{"hour":20.02,"province":"Province #7","online":315},{"hour":20.3,"province":"Province #7","online":328},{"hour":20.66,"province":"Province #7","online":315},{"hour":21.03,"province":"Province #7","online":319},{"hour":21.39,"province":"Province #7","online":323},{"hour":21.76,"province":"Province #7","online":323},{"hour":22.12,"province":"Province #7","online":319},{"hour":22.49,"province":"Province #7","online":311},{"hour":22.65,"province":"Province #7","online":300},{"hour":22.76,"province":"Province #7","online":290},{"hour":22.95,"province":"Province #7","online":296},{"hour":23.13,"province":"Province #7","online":302},{"hour":23.22,"province":"Province #7","online":290},{"hour":23.31,"province":"Province #7","online":269},{"hour":23.5,"province":"Province #7","online":266},{"hour":23.67,"province":"Province #7","online":264},{"hour":23.85,"province":"Province #7","online":270},{"hour":24,"province":"Province #7","online":266}
  ]},
  "layer": [
    {
      "mark": {"type": "line", "strokeWidth": 1.2},
      "encoding": {
        "x": {
          "field": "hour", "type": "quantitative",
          "scale": {"domain": [0, 24], "nice": false},
          "axis": {
            "orient": "bottom",
            "values": [0,1,2,3,4,5,6,7,8,9,10,11,12,13,14,15,16,17,18,19,20,21,22,23,24],
            "format": "d",
            "labelFont": "DejaVu Sans Mono", "labelFontSize": 12.5, "labelColor": "#444444",
            "labelPadding": 6, "labelFlush": false, "labelOverlap": false,
            "ticks": false,
            "domainColor": "#555555", "domainWidth": 2,
            "grid": true, "gridColor": "#aaaaaa", "gridDash": [6, 4], "gridWidth": 1,
            "title": "Date 26.06.2026",
            "titleFont": "DejaVu Sans Mono", "titleFontSize": 10, "titleFontWeight": "normal", "titleColor": "#444444",
            "titleX": 666, "titleY": 38, "titleBaseline": "middle", "titleAlign": "center"
          }
        },
        "y": {
          "field": "online", "type": "quantitative",
          "scale": {"domain": [0, 1143.5], "nice": false, "zero": true},
          "axis": {
            "values": [0,64,127,191,254,318,381,445,508,572,636,699,763,826,890,953,1017,1080],
            "format": "d",
            "labelFont": "DejaVu Sans Mono", "labelFontSize": 12.5, "labelColor": "#444444",
            "labelPadding": 4,
            "tickSize": 6, "tickColor": "#aaaaaa",
            "domainColor": "#555555", "domainWidth": 2,
            "grid": true, "gridColor": "#aaaaaa", "gridDash": [6, 4], "gridWidth": 1,
            "title": "Онлайн",
            "titleFont": "Inter", "titleFontSize": 11, "titleFontWeight": "bold", "titleColor": "#444444",
            "titleAngle": -90, "titleX": -54, "titleY": 224, "titleBaseline": "middle", "titleAlign": "center"
          }
        },
        "color": {
          "field": "province", "type": "nominal",
          "scale": {
            "domain": ["Province #1","Province #2","Province #3","Province #4","Province #5","Province #6","Province #7","Province OBT"],
            "range": ["#4285F4","#DB4437","#F4B400","#0F9D58","#AB47BC","#00ACC1","#5C6BC0","#EC407A"]
          },
          "legend": {
            "title": null,
            "orient": "none", "legendX": 890, "legendY": 155,
            "symbolType": "square", "symbolSize": 121, "symbolStrokeWidth": 0,
            "labelFont": "Inter", "labelFontSize": 12.8, "labelFontWeight": "bold", "labelColor": "#111111",
            "labelOffset": 7, "rowPadding": 6,
            "encode": {"symbols": {"update": {"fill": {"scale": "color", "field": "value"}, "fillOpacity": {"value": 1}, "strokeWidth": {"value": 0}}}}
          }
        }
      }
    },
    {
      "mark": {"type": "rule", "opacity": 0},
      "encoding": {
        "x": {
          "aggregate": "min", "field": "hour", "type": "quantitative",
          "scale": {"domain": [0, 24], "nice": false},
          "axis": {
            "orient": "top", "labels": false, "ticks": false, "domain": false, "grid": false,
            "title": "Data by Bot TBRU: vk.com/mtaprovinceonline",
            "titleFont": "DejaVu Sans Mono", "titleFontSize": 10, "titleFontWeight": "normal", "titleColor": "#444444",
            "titleX": 75, "titleY": 487, "titleBaseline": "middle", "titleAlign": "center"
          }
        }
      }
    }
  ],
  "resolve": {"scale": {"x": "independent"}, "axis": {"x": "independent"}},
  "config": {"view": {"stroke": "#555555", "strokeWidth": 1.5}}
}
